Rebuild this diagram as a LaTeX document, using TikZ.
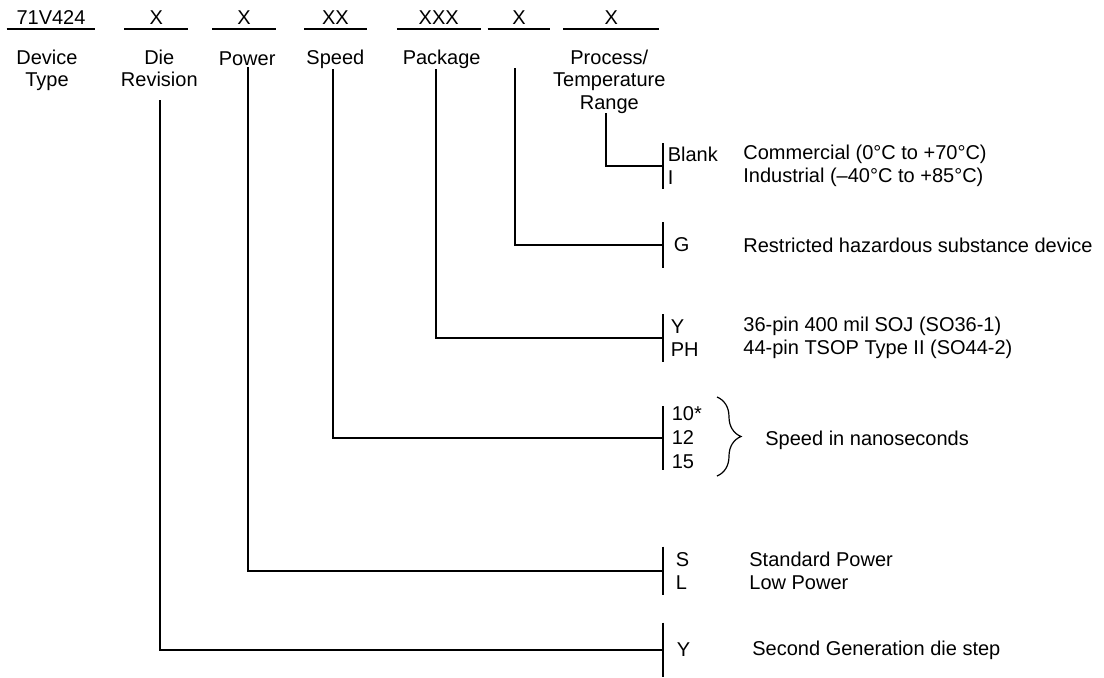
\documentclass[tikz,border=0pt]{standalone}
\usepackage{fontspec}
\setmainfont{Liberation Sans}
\usetikzlibrary{positioning, decorations.pathreplacing}
\tikzset{
    base/.style={font=\fontsize{10}{11.5}\selectfont, inner sep=0pt},
    fieldbox/.style={base, minimum width=#1, minimum height=10.5pt},
    namebox/.style={base, align=center, font=\fontsize{10}{11.25}\selectfont},
    optbar/.style={inner sep=0pt, minimum width=0pt, minimum height=#1},
    codebox/.style={base, align=left},
    descbox/.style={base, align=left, anchor=west},
    line/.style={draw=black, line width=0.9pt},
    brace-line/.style={draw=black, line width=0.6pt, decorate, decoration={brace, amplitude=12pt}}
}

\begin{document}
\begin{tikzpicture}[x=0.5pt, y=-0.5pt]
    \useasboundingbox (0,0) rectangle (1104,677);

    % part number fields
    \node [fieldbox=44pt] (dev) at (51,18) {71V424};
    \node [fieldbox=31.5pt, right=14.5pt of dev] (die) {X};
    \node [fieldbox=31.5pt, right=12pt of die] (pow) {X};
    \node [fieldbox=31pt, right=14pt of pow] (spd) {XX};
    \node [fieldbox=41.5pt, right=15pt of spd] (pkg) {XXX};
    \node [fieldbox=31pt, right=3.5pt of pkg] (rhs) {X};
    \node [fieldbox=47.5pt, right=6.5pt of rhs] (ptr) {X};
    \foreach \f in {dev,die,pow,spd,pkg,rhs,ptr}
        \draw [line] (\f.south west) -- (\f.south east);

    \node [namebox, below=10.25pt of dev, xshift=-2pt] (lDev) {Device\\Type};
    \node [namebox, below=10.25pt of die, xshift=1.5pt] (lDie) {Die\\Revision};
    \node [namebox, below=11pt of pow, xshift=1.5pt] (lPow) {Power};
    \node [namebox, below=10.5pt of spd] (lSpd) {Speed};
    \node [namebox, below=10.5pt of pkg, xshift=1.5pt] (lPkg) {Package};
    \node [namebox, below=10.25pt of ptr, xshift=-1pt] (lPtr) {Process/\\Temperature\\Range};

    % option bars
    \node [optbar=22.5pt] (bPtr) at (663,166) {};
    \node [optbar=22.5pt] (bRhs) at (663,245) {};
    \node [optbar=23.5pt] (bPkg) at (663,338) {};
    \node [optbar=31.5pt] (bSpd) at (663,438) {};
    \node [optbar=24pt] (bPow) at (663,571) {};
    \node [optbar=27pt] (bDie) at (663,650) {};
    \foreach \b in {bPtr,bRhs,bPkg,bSpd,bPow,bDie}
        \draw [line] (\b.north) -- (\b.south);

    % stems
    \coordinate (sPtr) at (606,113);
    \coordinate (sRhs) at (515,68);
    \coordinate (sPkg) at (436,69);
    \coordinate (sSpd) at (333,69);
    \coordinate (sPow) at (248,67);
    \coordinate (sDie) at (160,100);
    \draw [line] (sPtr) |- (bPtr);
    \draw [line] (sRhs) |- (bRhs);
    \draw [line] (sPkg) |- (bPkg);
    \draw [line] (sSpd) |- (bSpd);
    \draw [line] (sPow) |- (bPow);
    \draw [line] (sDie) |- (bDie);

    % codes
    \node [codebox, right=2pt of bPtr] (cPtr) {Blank\\I};
    \node [codebox, right=5pt of bRhs] (cRhs) {G};
    \node [codebox, right=3.5pt of bPkg] (cPkg) {Y\\PH};
    \node [codebox, right=4pt of bSpd, font=\fontsize{10}{12}\selectfont] (cSpd) {10*\\12\\15};
    \node [codebox, right=6pt of bPow] (cPow) {S\\L};
    \node [codebox, right=6.5pt of bDie] (cDie) {Y};

    % descriptions
    \coordinate (colA) at (743,0);
    \coordinate (colB) at (765,440);
    \coordinate (colC) at (749,0);
    \coordinate (colD) at (752,0);
    \node [descbox] (dPtr) at (colA |- bPtr) {Commercial (0°C to +70°C)\\Industrial (–40°C to +85°C)};
    \node [descbox] (dRhs) at (colA |- bRhs) {Restricted hazardous substance device};
    \node [descbox] (dPkg) at (colA |- bPkg) {36-pin 400 mil SOJ (SO36-1)\\44-pin TSOP Type II (SO44-2)};
    \node [descbox] (dSpd) at (colB) {Speed in nanoseconds};
    \node [descbox] (dPow) at (colC |- bPow) {Standard Power\\Low Power};
    \node [descbox] (dDie) at (colD |- bDie) {Second Generation die step};

    \draw [brace-line] (717,397) -- (717,476);
\end{tikzpicture}
\end{document}
